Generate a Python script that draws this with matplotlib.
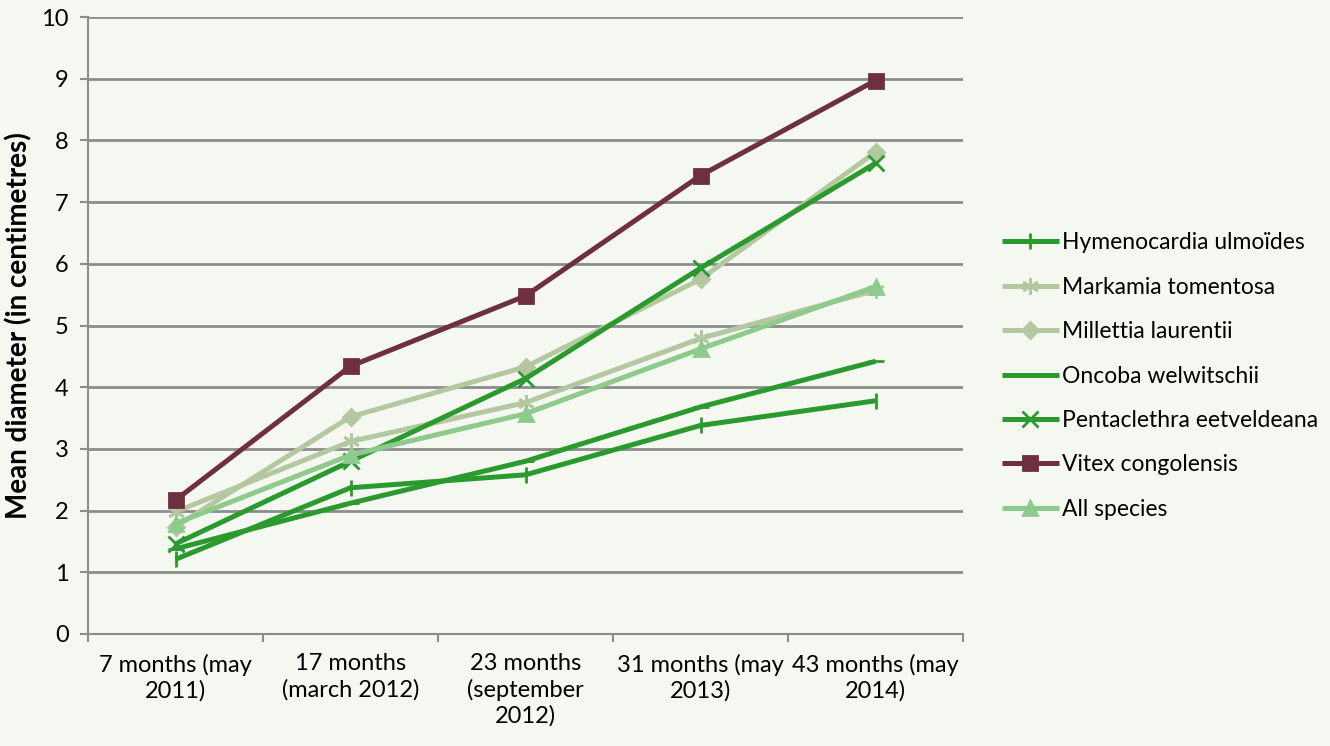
import matplotlib
matplotlib.use("Agg")
import matplotlib.pyplot as plt

categories = ["7 months (may\n2011)", "17 months\n(march 2012)", "23 months\n(september\n2012)",
              "31 months (may\n2013)", "43 months (may\n2014)"]
species = ["Hymenocardia ulmoïdes", "Markamia tomentosa", "Millettia laurentii",
           "Oncoba welwitschii", "Pentaclethra eetveldeana", "Vitex congolensis", "All species"]
hymenocardia = [1.21, 2.37, 2.58, 3.38, 3.78]
markamia = [1.98, 3.12, 3.75, 4.79, 5.57]
millettia = [1.74, 3.52, 4.33, 5.75, 7.81]
oncoba = [1.38, 2.12, 2.80, 3.68, 4.42]
pentaclethra = [1.46, 2.80, 4.14, 5.93, 7.63]
vitex = [2.17, 4.34, 5.48, 7.43, 8.97]
all_species = [1.79, 2.90, 3.57, 4.62, 5.63]

series = [hymenocardia, markamia, millettia, oncoba, pentaclethra, vitex, all_species]
colors = ["#2a9a2e", "#b3c8a0", "#b3c8a0", "#2a9a2e", "#2a9a2e", "#6e2f3e", "#8ccb8c"]
markers = ["|", (6, 2, 0), "D", "_", "x", "s", "^"]
msizes = [12, 12, 8, 12, 11, 10, 10]

bg = "#f5f8f0"
plt.rcParams['font.family'] = ['Lato', 'DejaVu Sans']

fig = plt.figure(figsize=(13.3, 7.46), dpi=100, facecolor=bg)
ax = fig.add_axes([88/1330, 1 - 634/746, (963-88)/1330, (634-17)/746])
ax.set_facecolor(bg)

x = list(range(len(categories)))
for vals, name, c, m, ms in zip(series, species, colors, markers, msizes):
    ax.plot(x, vals, color=c, lw=3.6, marker=m, markersize=ms, markeredgewidth=2.0,
            markerfacecolor=c, markeredgecolor=c, label=name, solid_capstyle='butt')

ax.set_xlim(-0.5, 4.5)
ax.set_ylim(0, 10)
ax.set_yticks(range(0, 11))
ax.set_xticks(x)
ax.set_xticklabels(categories, fontsize=17, linespacing=1.25)
ax.set_xticks([i - 0.5 for i in range(6)], minor=True)
ax.tick_params(axis='x', which='major', length=0, pad=14)
ax.tick_params(axis='x', which='minor', length=6, color='#8c8c8c', width=1.5)
ax.tick_params(axis='y', length=6, color='#8c8c8c', width=1.5, labelsize=17, pad=8)
ax.grid(axis='y', color='#8c8c8c', lw=2)
ax.set_axisbelow(True)
for s in ['top', 'right']:
    ax.spines[s].set_visible(False)
for s in ['left', 'bottom']:
    ax.spines[s].set_color('#8c8c8c')
    ax.spines[s].set_linewidth(1.5)
ax.set_ylabel("Mean diameter (in centimetres)", fontsize=20, fontweight='bold', labelpad=6)

leg = ax.legend(loc='center left', bbox_to_anchor=(1.045, 0.418), frameon=False, fontsize=16.5,
                handlelength=2.45, handletextpad=0.15, labelspacing=1.02, borderpad=0,
                borderaxespad=0)

fig.savefig("out.png", dpi=100, facecolor=bg)
